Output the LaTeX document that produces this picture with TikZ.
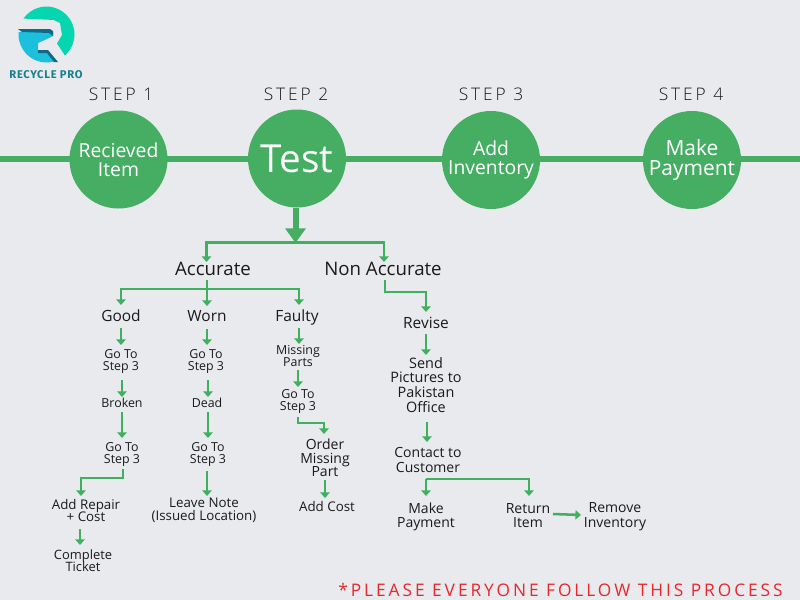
\documentclass[tikz,border=0pt]{standalone}
\usepackage{fontspec}
\setmainfont{Open Sans}
\newfontfamily\stepfont[LetterSpace=17,UprightFont=* Light]{Open Sans}
\newfontfamily\logofont[LetterSpace=6]{Fira Sans}
\newfontfamily\notefont[LetterSpace=17]{Open Sans}
\usetikzlibrary{arrows.meta,calc}
\definecolor{bgc}{HTML}{E8EAEE}
\definecolor{gr}{HTML}{45AE63}
\definecolor{arrc}{HTML}{3FB05E}
\definecolor{txt}{HTML}{1A1A1A}
\definecolor{lgreen}{HTML}{06D6B0}
\definecolor{lblue}{HTML}{1CC0DC}
\definecolor{ldark}{HTML}{0F6A8A}
\definecolor{lteal}{HTML}{1A7F8C}
\definecolor{nred}{HTML}{E8262C}
\newcommand{\fs}[2]{\fontsize{#1}{#2}\selectfont\lineskiplimit=-10pt\relax}
\tikzset{
 lab/.style={inner sep=0pt,align=center,text=txt},
 big/.style={lab,font=\fs{14}{16}},
 mid/.style={lab,font=\fs{11.6}{13}},
 sma/.style={lab,font=\fs{9.3}{9}},
 smb/.style={lab,font=\fs{10}{9}},
 med/.style={lab,font=\fs{10.5}{11}},
 stepl/.style={inner sep=0pt,text=txt,font=\stepfont\fs{13}{14}},
 circ/.style={circle,fill=gr,minimum size=73.5pt,inner sep=0pt,align=center,text=white},
 arr/.style={draw=arrc,line width=1.9pt,-{Triangle[length=4.2pt,width=7pt]}},
 arrp/.style={draw=arrc,line width=1.9pt},
}
\begin{document}
\begin{tikzpicture}[x=0.75pt,y=-0.75pt]
\useasboundingbox (0,0) rectangle (800,600);
\fill[bgc] (0,0) rectangle (800,600);
% logo
\begin{scope}
\clip (46.5,34.5) circle[radius=21pt];
\fill[lgreen] (15,18.2) -- (54,20) -- (60,23) -- (62,35) -- (57,43.5) -- (66,57) -- (90,70) -- (90,0) -- (15,0) -- cycle;
\fill[lblue] (10,32) -- (53,32) -- (53,36) -- (47,39) -- (38,43) -- (38,50) -- (48,51) -- (58,62) -- (60,70) -- (10,70) -- cycle;
\end{scope}
\fill[ldark] (18,29) -- (50,29) -- (53,31) -- (53,36) -- (49,33) -- (22,32) -- cycle;
\fill[ldark] (38,50) -- (48,50) -- (58,62) -- (54,62) -- (47,53) -- (38,53) -- cycle;
\node[inner sep=0pt,text=lteal,font=\logofont\bfseries\fs{8.4}{9}] (logotext) at (46,75) {RECYCLE PRO};
% timeline
\coordinate (lineL) at (0,159);
\coordinate (lineR) at (800,159);
\draw[gr,line width=4.5pt] (lineL) -- (lineR);
\node[stepl] (s1) at (121,94) {STEP 1};
\node[stepl] (s2) at (296,94) {STEP 2};
\node[stepl] (s3) at (491,94) {STEP 3};
\node[stepl] (s4) at (691,94) {STEP 4};
\node[circ,font=\fs{14.5}{14.5}] (c1) at (118.5,159.5) {Recieved\\Item};
\node[circ,font=\fs{29}{30}] (c2) at (297,158.5) {Test};
\node[circ,font=\fs{14.5}{14.5}] (c3) at (491,160) {Add\\Inventory};
\node[circ,font=\fs{15.7}{15}] (c4) at (692,160) {Make\\Payment};
% labels
\node[big] (acc) at (213,269) {Accurate};
\node[big] (non) at (383,269) {Non Accurate};
\node[mid] (good) at (121,316) {Good};
\node[mid] (worn) at (207,316) {Worn};
\node[mid] (faulty) at (297,317) {Faulty};
\node[mid] (revise) at (426,323) {Revise};
\node[sma] (g1) at (121,361) {Go To\\Step 3};
\node[sma] (w1) at (206,361) {Go To\\Step 3};
\node[sma] (m1) at (298,356) {Missing\\Parts};
\node[sma] (f1) at (298,401) {Go To\\Step 3};
\node[sma] (broken) at (122,403) {Broken};
\node[sma] (dead) at (207,403) {Dead};
\node[sma] (g2) at (122,454) {Go To\\Step 3};
\node[sma] (w2) at (208,454) {Go To\\Step 3};
\node[smb] (addr) at (86,510) {Add Repair\\+ Cost};
\node[smb,font=\fs{9.7}{9}] (comp) at (83,560.5) {Complete\\Ticket};
\node[smb,font=\fs{10}{10}] (leave) at (204,510) {Leave Note\\(Issued Location)};
\node[med,font=\fs{10.5}{10}] (order) at (325,458) {Order\\Missing\\Part};
\node[med,font=\fs{10}{11}] (addc) at (327,506) {Add Cost};
\node[med,font=\fs{10.8}{11.2}] (send) at (426,385) {Send\\Pictures to\\Pakistan\\Office};
\node[med] (cont) at (428,460) {Contact to\\Customer};
\node[med] (make) at (426,517) {Make\\Payment};
\node[med] (ret) at (528,515.5) {Return\\Item};
\node[med] (rem) at (615,517) {Remove\\Inventory};
% thick arrow
\draw[draw=gr,line width=4.5pt,-{Triangle[length=11pt,width=15pt]}] (c2.south -| 295.5,0) -- (295.5,243);
% connectors
\draw[arr] ($(c2)+(-2,84)$) -| ($(acc)+(-6.5,-7)$);
\draw[arr] ($(c2)+(-2,84)$) -| ($(non)+(1,-7)$);
\draw[arrp] ($(acc)+(-6,11)$) -- ($(acc)+(-6,20)$);
\draw[arr] ($(acc)+(-6,20)$) -| ($(good)+(0,-11)$);
\draw[arr] ($(acc)+(-6,20)$) -- ($(worn)+(0,-10)$);
\draw[arr] ($(acc)+(-6,20)$) -| ($(faulty)+(2,-12)$);
\draw[arr] ($(non)+(2,11)$) |- ($(non)+(22,23)$) -| ($(revise)+(0,-11)$);
\draw[arr] ($(good)+(0,12)$) -- ($(g1)+(0,-16)$);
\draw[arr] ($(worn)+(0,13)$) -- ($(w1)+(1,-16)$);
\draw[arr] ($(faulty)+(2,11)$) -- ($(m1)+(1,-12)$);
\draw[arr] ($(g1)+(1,19)$) -- ($(broken)+(0,-6)$);
\draw[arr] ($(w1)+(2,19)$) -- ($(dead)+(1,-6)$);
\draw[arr] ($(m1)+(0,14)$) -- ($(f1)+(0,-14)$);
\draw[arr] ($(broken)+(0,9)$) -- ($(g2)+(0,-16)$);
\draw[arr] ($(dead)+(1,9)$) -- ($(w2)+(0,-16)$);
\draw[arr] ($(g2)+(1,15)$) -- ($(g2)+(1,24)$) -| ($(addr)+(-5,-14)$);
\draw[arr] ($(w2)+(-1,17)$) -- ($(leave)+(3,-14)$);
\draw[arr] ($(addr)+(-6,19)$) -- ($(comp)+(-3,-15.5)$);
\draw[arr] ($(f1)+(0,16)$) -- ($(f1)+(0,22)$) -| ($(order)+(-1,-24)$);
\draw[arr] ($(order)+(0,22)$) -- ($(addc)+(-2,-8)$);
\draw[arr] ($(revise)+(0,11)$) -- ($(send)+(0,-30)$);
\draw[arr] ($(send)+(1,37)$) -- ($(cont)+(-1,-18)$);
\draw[arr] ($(cont)+(-2,19)$) -- ($(make)+(0,-38)$) -- ($(make)+(0,-21)$);
\draw[arr] ($(make)+(0,-38)$) -| ($(ret)+(1,-19.5)$);
\draw[arr] ($(ret)+(25,-1.5)$) -- ($(rem)+(-34,-2)$);
% note
\node[inner sep=0pt,text=nred,font=\notefont\fs{13}{14}] (note) at (560.5,590) {*PLEASE EVERYONE FOLLOW THIS PROCESS};
\end{tikzpicture}
\end{document}
